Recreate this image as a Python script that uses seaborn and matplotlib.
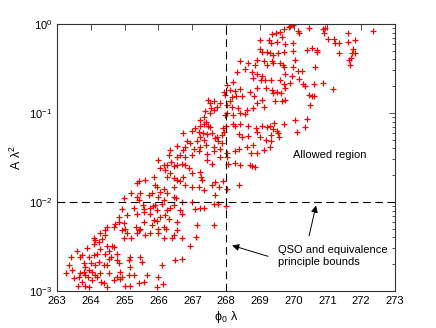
import numpy as np
import pandas as pd
import matplotlib
matplotlib.use("Agg")
import matplotlib.pyplot as plt
import seaborn as sns

# phi_0 * lambda for each sample point
phi_lam = [
    269.90, 269.98, 269.85, 269.72, 269.60, 269.48, 269.37, 269.65, 269.26, 269.01,
    269.50, 269.33, 269.75, 269.99, 270.17, 270.14, 270.44, 270.86, 270.93, 270.90,
    271.18, 271.23, 271.33, 271.60, 271.62, 272.34, 271.82, 271.03, 269.01, 269.21,
    269.06, 269.31, 269.40, 269.55, 269.70, 269.98, 270.39, 270.54, 270.68, 270.70,
    271.35, 271.77, 271.72, 271.69, 271.65, 271.67, 271.82, 268.42, 268.91, 269.11,
    269.21, 269.35, 269.40, 269.60, 269.68, 269.72, 268.66, 268.86, 270.04, 269.99,
    270.14, 270.24, 270.64, 268.57, 268.76, 268.91, 269.06, 268.81, 269.04, 269.14,
    269.33, 269.60, 269.75, 269.95, 270.17, 269.90, 269.70, 269.75, 269.63, 270.29,
    270.34, 270.59, 270.54, 270.59, 270.44, 270.49, 270.88, 271.16, 268.32, 268.22,
    268.02, 268.12, 268.27, 268.42, 268.28, 268.19, 267.98, 267.93, 268.47, 268.71,
    268.93, 269.18, 269.35, 269.40, 269.50, 269.45, 269.67, 269.75, 268.91, 269.06,
    269.11, 268.81, 268.84, 268.62, 268.42, 268.57, 268.34, 268.17, 268.02, 268.12,
    268.04, 267.98, 268.22, 267.51, 267.55, 267.63, 267.73, 267.83, 267.38, 267.53,
    267.35, 267.48, 267.63, 267.22, 267.41, 267.48, 267.35, 267.53, 267.24, 267.09,
    267.19, 267.32, 266.99, 266.72, 267.43, 267.58, 267.73, 267.95, 267.91, 268.00,
    267.88, 268.22, 268.42, 268.25, 268.65, 268.89, 269.06, 269.21, 269.31, 269.42,
    269.38, 269.50, 269.72, 268.91, 268.37, 268.47, 268.66, 269.01, 269.18, 269.33,
    269.55, 269.58, 270.04, 270.09, 270.39, 270.34, 266.84, 266.94, 267.14, 267.22,
    267.35, 267.68, 267.75, 267.88, 267.63, 267.41, 267.22, 267.04, 266.79, 266.72,
    266.55, 266.35, 266.30, 266.55, 266.65, 266.79, 266.99, 267.19, 267.43, 267.63,
    267.83, 268.02, 268.04, 268.27, 268.37, 268.62, 268.81, 268.73, 268.91, 269.11,
    269.29, 269.33, 267.43, 267.58, 267.83, 268.07, 268.25, 268.42, 268.71, 268.78,
    268.86, 268.37, 266.00, 266.15, 266.25, 266.37, 266.05, 266.20, 266.35, 266.45,
    266.55, 266.69, 266.79, 266.89, 266.25, 266.45, 266.55, 266.65, 266.74, 266.99,
    267.24, 267.26, 267.29, 266.79, 266.99, 267.19, 267.35, 267.68, 267.78, 267.91,
    268.02, 267.58, 267.68, 265.36, 265.41, 265.61, 265.86, 265.91, 265.96, 266.45,
    266.15, 266.05, 266.00, 265.81, 265.46, 265.19, 264.99, 265.36, 265.41, 265.71,
    266.15, 266.25, 266.45, 266.53, 266.69, 266.99, 267.63, 267.75, 268.00, 267.35,
    267.22, 267.09, 266.45, 266.35, 266.10, 265.91, 265.84, 265.76, 265.54, 265.56,
    265.27, 264.92, 264.82, 265.07, 265.36, 265.56, 265.76, 265.96, 266.25, 265.86,
    265.96, 266.05, 266.20, 266.30, 266.55, 266.00, 266.15, 266.22, 266.65, 266.69,
    267.14, 267.63, 265.81, 265.56, 265.46, 265.41, 265.32, 264.97, 265.02, 264.82,
    264.72, 264.67, 264.48, 264.43, 264.28, 264.08, 264.33, 264.43, 266.55, 266.69,
    266.45, 266.40, 266.15, 266.00, 265.76, 265.61, 265.36, 265.07, 264.92, 265.20,
    264.97, 266.94, 267.12, 266.69, 266.50, 266.10, 266.00, 265.66, 265.56, 265.41,
    265.96, 266.13, 265.27, 265.12, 264.92, 264.87, 264.82, 264.77, 264.77, 264.58,
    264.67, 264.63, 264.48, 264.53, 264.43, 264.28, 264.18, 264.08, 264.24, 264.38,
    264.53, 264.48, 264.53, 264.77, 264.67, 264.87, 265.12, 265.15, 265.46, 265.51,
    265.17, 263.94, 263.89, 264.08, 264.13, 264.23, 263.69, 263.74, 263.59, 263.79,
    263.84, 263.94, 264.03, 264.13, 264.18, 263.79, 263.84, 263.91, 263.69, 263.64,
    264.03, 263.74, 263.84, 263.94, 264.28, 264.30, 264.38, 264.48, 265.02, 265.15,
    263.61, 263.51, 263.44, 263.34, 263.25, 263.41, 263.99, 264.13,
]

# log10(A * lambda^2) for the same points
log_a_lam2 = [
    -0.02, -0.01, -0.03, -0.06, -0.09, -0.10, -0.11, -0.15, -0.18, -0.18,
    -0.20, -0.21, -0.23, -0.21, -0.10, -0.08, -0.04, -0.06, -0.05, -0.10,
    -0.17, -0.21, -0.21, -0.10, -0.20, -0.08, -0.18, -0.17, -0.28, -0.31,
    -0.32, -0.33, -0.35, -0.33, -0.31, -0.30, -0.29, -0.27, -0.29, -0.31,
    -0.33, -0.28, -0.33, -0.38, -0.40, -0.46, -0.33, -0.42, -0.40, -0.42,
    -0.46, -0.42, -0.44, -0.44, -0.46, -0.48, -0.44, -0.46, -0.40, -0.48,
    -0.53, -0.53, -0.48, -0.51, -0.54, -0.56, -0.58, -0.61, -0.63, -0.63,
    -0.63, -0.63, -0.56, -0.58, -0.62, -0.66, -0.68, -0.72, -0.78, -0.68,
    -0.70, -0.68, -0.81, -0.81, -0.80, -0.91, -0.66, -0.73, -0.54, -0.65,
    -0.69, -0.74, -0.75, -0.73, -0.81, -0.82, -0.80, -0.76, -0.81, -0.76,
    -0.72, -0.72, -0.74, -0.78, -0.76, -0.87, -0.87, -0.85, -0.89, -0.85,
    -0.93, -0.95, -0.81, -0.97, -1.00, -1.01, -0.95, -0.93, -0.91, -0.87,
    -1.00, -1.02, -1.02, -0.89, -0.95, -0.97, -0.93, -0.89, -0.98, -1.00,
    -1.05, -0.85, -0.87, -1.08, -1.10, -1.15, -1.12, -1.16, -1.15, -1.17,
    -1.21, -1.22, -1.20, -1.23, -1.24, -1.22, -1.27, -1.21, -1.17, -1.15,
    -1.25, -1.12, -1.12, -1.15, -1.15, -1.17, -1.15, -1.16, -1.15, -1.11,
    -1.18, -1.20, -1.12, -1.21, -1.24, -1.27, -1.26, -1.27, -1.30, -1.25,
    -1.23, -1.27, -1.08, -1.21, -1.07, -1.16, -1.32, -1.34, -1.32, -1.27,
    -1.30, -1.28, -1.32, -1.34, -1.38, -1.36, -1.38, -1.40, -1.38, -1.42,
    -1.37, -1.42, -1.47, -1.49, -1.47, -1.49, -1.47, -1.43, -1.46, -1.43,
    -1.41, -1.45, -1.49, -1.43, -1.40, -1.38, -1.36, -1.45, -1.45, -1.42,
    -1.38, -1.32, -1.53, -1.57, -1.50, -1.57, -1.56, -1.58, -1.58, -1.60,
    -1.61, -1.81, -1.53, -1.58, -1.58, -1.55, -1.62, -1.64, -1.68, -1.60,
    -1.58, -1.57, -1.58, -1.62, -1.72, -1.73, -1.75, -1.77, -1.72, -1.68,
    -1.66, -1.72, -1.75, -1.81, -1.83, -1.83, -1.87, -1.78, -1.83, -1.77,
    -1.85, -1.81, -1.92, -1.79, -1.77, -1.75, -1.72, -1.81, -1.83, -1.83,
    -1.85, -1.89, -1.94, -1.90, -1.90, -1.90, -1.96, -1.94, -1.98, -1.92,
    -1.98, -1.90, -1.94, -1.96, -2.00, -2.00, -2.02, -2.02, -2.05, -2.07,
    -2.07, -2.08, -2.04, -2.07, -2.02, -2.04, -2.05, -2.07, -2.04, -2.08,
    -2.07, -2.08, -2.17, -2.15, -2.13, -2.11, -2.13, -2.09, -2.09, -2.20,
    -2.21, -2.17, -2.15, -2.19, -2.22, -2.30, -2.28, -2.30, -2.09, -2.13,
    -2.26, -2.26, -2.26, -2.23, -2.30, -2.32, -2.28, -2.24, -2.30, -2.22,
    -2.25, -2.28, -2.28, -2.32, -2.35, -2.41, -2.42, -2.37, -2.32, -2.41,
    -2.37, -2.41, -2.41, -2.35, -2.35, -2.37, -2.35, -2.35, -2.32, -2.41,
    -2.41, -2.49, -2.39, -2.64, -2.65, -2.71, -2.84, -2.82, -2.90, -2.91,
    -2.96, -2.92, -2.82, -2.82, -2.84, -2.79, -2.69, -2.65, -2.58, -2.62,
    -2.51, -2.49, -2.50, -2.55, -2.58, -2.53, -2.58, -2.60, -2.67, -2.71,
    -2.64, -2.71, -2.80, -2.84, -2.88, -2.87, -2.65, -2.73, -2.62, -2.67,
    -2.62, -2.62, -2.52, -2.47, -2.43, -2.45, -2.62, -2.60, -2.55, -2.69,
    -2.73, -2.77, -2.79, -2.82, -2.84, -2.79, -2.82, -2.84, -2.80, -2.84,
    -2.88, -2.90, -2.94, -2.96, -2.80, -2.90, -2.91, -2.96, -2.95, -2.94,
    -2.94, -2.86, -2.77, -2.71, -2.80, -2.62, -2.69, -2.71,
]

X_BOUND = 268.0   # equivalence principle bound
Y_BOUND = 1e-2    # QSO bound

df = pd.DataFrame({"phi": phi_lam, "A": 10.0 ** np.array(log_a_lam2)})

sns.set_style("white")
plt.rcParams["font.family"] = ["Liberation Sans", "DejaVu Sans"]
plt.rcParams["mathtext.fontset"] = "custom"
plt.rcParams["mathtext.rm"] = "Liberation Sans"
for k in ("text.color", "axes.labelcolor", "xtick.color", "ytick.color"):
    plt.rcParams[k] = "black"

fig = plt.figure(figsize=(4.36, 3.28), dpi=100)
ax = fig.add_axes([0.131, 0.113, 0.775, 0.814])

sns.scatterplot(data=df, x="phi", y="A", marker="+", color="red",
                s=22, linewidth=0.9, ax=ax, legend=False)

ax.set_yscale("log")
ax.set_xlim(263, 273)
ax.set_ylim(1e-3, 1)
ax.set_xticks(np.arange(263, 274, 1))

ax.axvline(X_BOUND, color="black", ls=(0, (7, 4)), lw=0.8)
ax.axhline(Y_BOUND, color="black", ls=(0, (7, 4)), lw=0.8)

ax.text(271.06, 0.034, "Allowed region", ha="center", va="center", fontsize=8)
ax.text(269.53, 10 ** -2.61, "QSO and equivalence\nprinciple bounds",
        ha="left", va="center", fontsize=8, linespacing=1.3)

arrow = dict(arrowstyle="-|>", color="black", lw=0.7, mutation_scale=10)
ax.annotate("", xy=(270.68, 10 ** -2.01), xytext=(270.44, 10 ** -2.41),
            arrowprops=arrow)
ax.annotate("", xy=(268.10, 10 ** -2.48), xytext=(269.32, 10 ** -2.62),
            arrowprops=arrow)

ax.set_xlabel(r"$\mathrm{\phi_0\ \lambda}$", fontsize=9, labelpad=2)
ax.set_ylabel(r"$\mathrm{A\ \lambda^2}$", fontsize=9, labelpad=4)

ax.tick_params(which="both", direction="in", top=True, right=True,
               labelsize=8, width=0.6, color="#333333")
ax.tick_params(which="major", length=4)
ax.tick_params(which="minor", length=2)
for sp in ax.spines.values():
    sp.set_linewidth(0.8)
    sp.set_color("#333333")

fig.savefig("out.png", dpi=100)
